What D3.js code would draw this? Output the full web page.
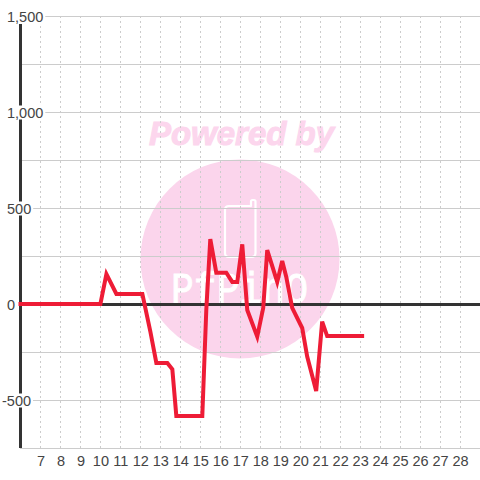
<!DOCTYPE html>
<html>
<head>
<meta charset="utf-8">
<script src="https://cdnjs.cloudflare.com/ajax/libs/d3/7.8.5/d3.min.js"></script>
<style>
html,body{margin:0;padding:0;background:#fff}
svg{display:block}
text{font-family:"Liberation Sans",Arial,sans-serif}
</style>
</head>
<body>
<svg id="c" width="480" height="480"></svg>
<script>
const xDays = [6,10,10.3,10.8,12.1,12.5,12.8,13.35,13.6,13.8,15.1,15.3,15.5,15.8,16.3,16.6,16.85,17.1,17.35,17.85,18.15,18.35,18.85,19.1,19.3,19.6,20.1,20.35,20.8,21.1,21.35,23.1];
const values = [0,0,156,52,52,-144,-307,-307,-340,-583,-583,-30,338,163,163,115,115,311,-31,-170,-20,281,115,224,142,-20,-125,-274,-453,-92,-167,-167];
const xTicks = [7,8,9,10,11,12,13,14,15,16,17,18,19,20,21,22,23,24,25,26,27,28];
const yLabelTicks = [-500,0,500,1000,1500];
const yGridTicks = [-750,-500,-250,0,250,500,750,1000,1250,1500];

const svg = d3.select("#c");
const x = d3.scaleLinear().domain([6,29]).range([20.5,480]);
const y = d3.scaleLinear().domain([-750,1500]).range([448,16]);
const fmt = d3.format(",");
const fmtLabel = d => fmt(d).replace("\u2212","-");

// watermark
const wm = svg.append("g");
wm.append("text").attr("x",241.5).attr("y",145).attr("text-anchor","middle")
  .attr("font-size",33).attr("font-weight","bold").attr("font-style","italic")
  .style("font-family","'Liberation Sans'").attr("fill","#fcd6ed")
  .attr("stroke","#fcd6ed").attr("stroke-width",1).text("Powered by");
wm.append("circle").attr("cx",240).attr("cy",259).attr("r",99.5).attr("fill","#fbd5ec");
wm.append("path").attr("fill","none").attr("stroke","#fff").attr("stroke-width",2.2)
  .attr("stroke-linejoin","round")
  .attr("d","M229 206H251V201.5Q251 200 252.5 200H254Q255.5 200 255.5 201.5V253Q255.5 257 251.5 257H229Q225 257 225 253V210Q225 206 229 206Z");
wm.append("text").attr("x",171).attr("y",303).attr("font-size",45)
  .attr("textLength",137).attr("lengthAdjust","spacingAndGlyphs")
  .style("font-family","'Liberation Mono'").attr("fill","#fff")
  .attr("stroke","#fff").attr("stroke-width",0.8).text("PfPinO");

// grid
const gridH = svg.append("g");
gridH.selectAll("line").data(yGridTicks).join("line")
  .attr("x1",20).attr("x2",480)
  .attr("y1",d=>Math.round(y(d))+0.5).attr("y2",d=>Math.round(y(d))+0.5)
  .attr("stroke","#cccccc").attr("stroke-width",1);
const gridV = svg.append("g");
gridV.selectAll("line").data(xTicks).join("line")
  .attr("x1",d=>Math.round(x(d))+0.5).attr("x2",d=>Math.round(x(d))+0.5)
  .attr("y1",16).attr("y2",448)
  .attr("stroke","#cccccc").attr("stroke-dasharray","2 3");

// x axis labels
const xAxis = d3.axisBottom(x).tickValues(xTicks).tickSize(0).tickPadding(0).tickFormat(d3.format("d"));
const gx = svg.append("g").attr("transform","translate(0,454)").call(xAxis);
gx.select(".domain").remove();
gx.selectAll("text").attr("font-size",14.5).attr("fill","#444").attr("dy","0.8em")
  .style("font-family","'Liberation Sans'");

// y axis line and zero line
svg.append("line").attr("x1",x(6)).attr("x2",x(6)).attr("y1",24).attr("y2",448)
  .attr("stroke","#333").attr("stroke-width",3);
svg.append("line").attr("x1",x(6)).attr("x2",480).attr("y1",y(0)+0.5).attr("y2",y(0)+0.5)
  .attr("stroke","#333").attr("stroke-width",3);

// y axis labels
const yAxis = d3.axisLeft(y).tickValues(yLabelTicks).tickSize(0).tickPadding(0).tickFormat(fmtLabel);
const gy = svg.append("g").call(yAxis);
gy.select(".domain").remove();
gy.selectAll("text").attr("font-size",14.5).attr("fill","#444").attr("text-anchor","start")
  .style("font-family","'Liberation Sans'")
  .attr("x",d=>d<0?2:7).attr("dy","0.36em");
gy.selectAll(".tick").each(function(d){
  if(d===0) return;
  const t=d3.select(this).select("text"), b=t.node().getBBox();
  d3.select(this).insert("rect","text").attr("x",b.x-1).attr("y",-7).attr("width",b.width+3).attr("height",14).attr("fill","#fff");
});

// line
const line = d3.line().x(d=>x(d[0])).y(d=>y(d[1]));
svg.append("path").datum(xDays.map((d,i)=>[d,values[i]])).attr("d",line)
  .attr("fill","none").attr("stroke","#ee1c36").attr("stroke-width",4)
  .attr("stroke-linecap","square").attr("stroke-linejoin","miter");
</script>
</body>
</html>
